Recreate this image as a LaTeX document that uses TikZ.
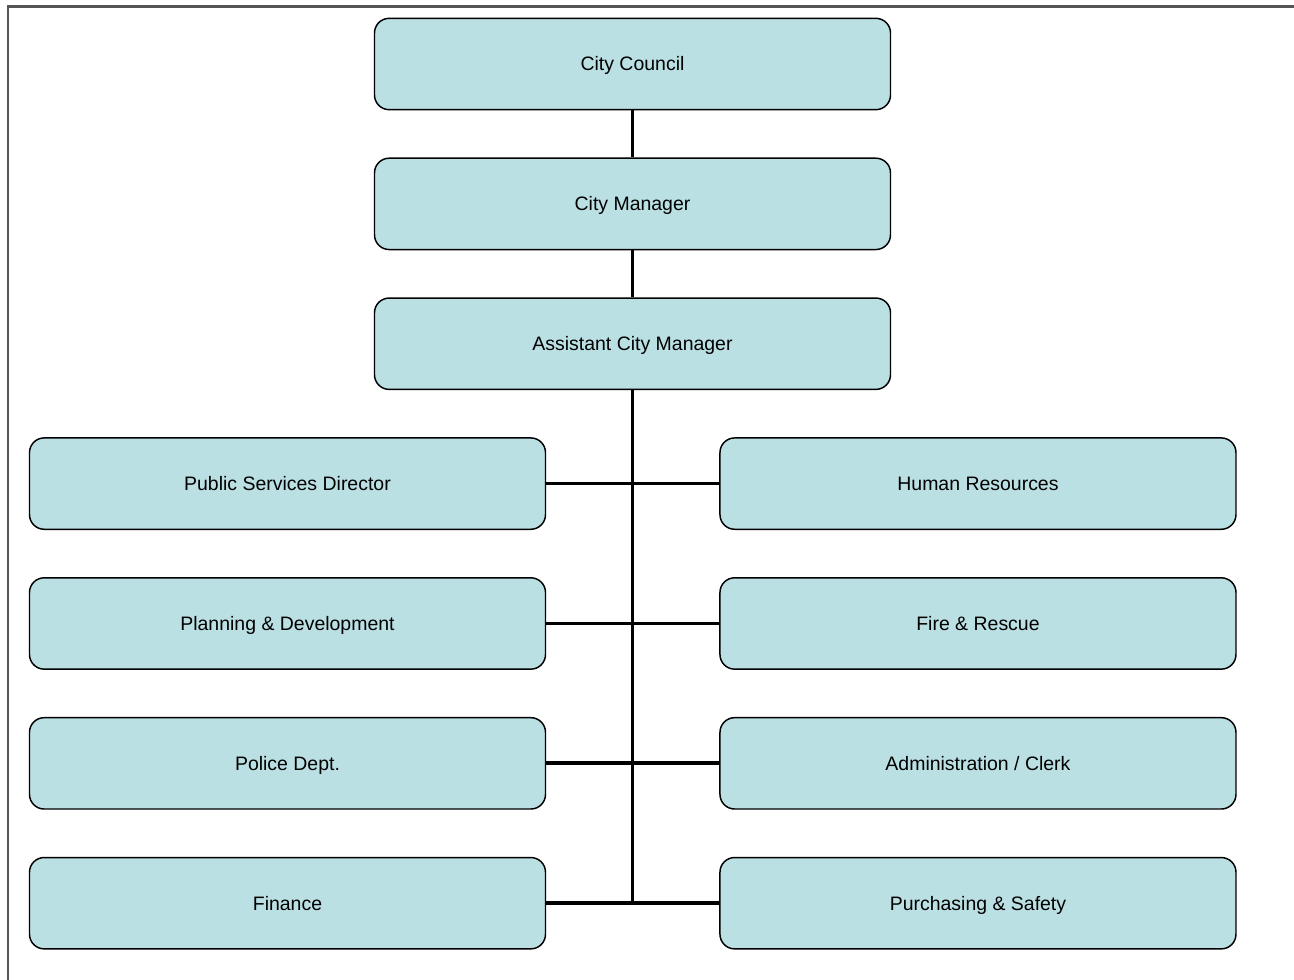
\documentclass[tikz,border=0pt]{standalone}
\usepackage{fontspec}
\setmainfont{Liberation Sans}
\usetikzlibrary{positioning}
\definecolor{boxfill}{HTML}{BBE0E3}
\definecolor{framegray}{HTML}{555555}

\begin{document}
\begin{tikzpicture}[x=0.75pt, y=0.75pt,
    unit/.style={draw=black, line width=1.1pt, fill=boxfill, rounded corners=11pt,
                 minimum width=387pt, minimum height=68.5pt, inner sep=0pt,
                 text height=10.4pt, text depth=0pt,
                 font=\fontsize{14.6}{17}\selectfont},
    link/.style={line width=2.8pt, black},
    node distance=35.3pt]
    \useasboundingbox (0,0) rectangle (1294,-980);
    \draw[framegray, line width=2.2pt] (8,-980) -- (8,-6.5) -- (1294,-6.5);

    \node[unit] (council) at (632.5,-64) {City Council};
    \node[unit, below = of council] (manager) {City Manager};
    \node[unit, below = of manager] (assistant) {Assistant City Manager};

    \node[unit, below = of assistant, xshift=-258.75pt] (publicsvc) {Public Services Director};
    \node[unit, below = of publicsvc] (planning) {Planning \& Development};
    \node[unit, below = of planning] (police) {Police Dept.};
    \node[unit, below = of police] (finance) {Finance};

    \node[unit, below = of assistant, xshift=259.1pt] (hr) {Human Resources};
    \node[unit, below = of hr] (fire) {Fire \& Rescue};
    \node[unit, below = of fire] (clerk) {Administration / Clerk};
    \node[unit, below = of clerk] (purchasing) {Purchasing \& Safety};

    \coordinate (trunkend) at (assistant.south |- finance.east);
    \draw[link] (council) -- (manager);
    \draw[link] (manager) -- (assistant);
    \draw[link] (assistant.south) -- (trunkend);
    \draw[link] (publicsvc.east) -- (hr.west);
    \draw[link] (planning.east) -- (fire.west);
    \draw[link] (police.east) -- (clerk.west);
    \draw[link] (finance.east) -- (purchasing.west);
\end{tikzpicture}
\end{document}
